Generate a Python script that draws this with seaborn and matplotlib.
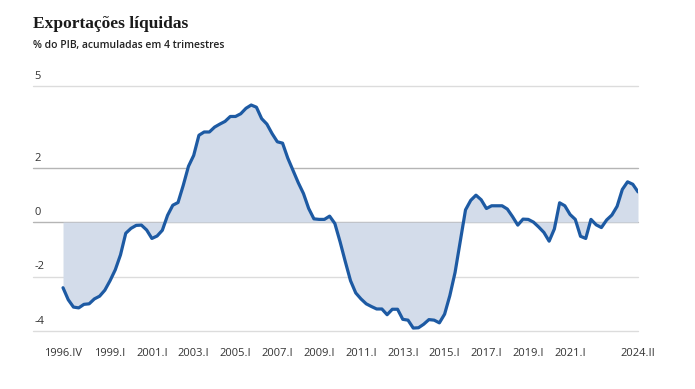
import numpy as np
import pandas as pd
import matplotlib
matplotlib.use("Agg")
import matplotlib.pyplot as plt
import seaborn as sns

# exportações líquidas, % do PIB acumulado em 4 trimestres, 1996.IV a 2024.II
valores = [
    -2.41, -2.85, -3.12, -3.15, -3.02, -3.00, -2.82, -2.72, -2.50, -2.15,
    -1.75, -1.20, -0.41, -0.23, -0.12, -0.11, -0.29, -0.60, -0.51, -0.30,
    0.25, 0.62, 0.72, 1.35, 2.05, 2.45, 3.19, 3.31, 3.31, 3.49,
    3.60, 3.70, 3.88, 3.88, 3.98, 4.18, 4.30, 4.22, 3.80, 3.60,
    3.25, 2.95, 2.90, 2.35, 1.90, 1.45, 1.05, 0.50, 0.12, 0.10,
    0.10, 0.22, -0.05, -0.72, -1.45, -2.15, -2.60, -2.82, -3.00, -3.10,
    -3.19, -3.19, -3.40, -3.20, -3.20, -3.57, -3.60, -3.89, -3.88, -3.75,
    -3.58, -3.60, -3.70, -3.38, -2.70, -1.85, -0.70, 0.45, 0.80, 0.99,
    0.82, 0.50, 0.60, 0.60, 0.60, 0.48, 0.20, -0.11, 0.11, 0.10,
    0.00, -0.18, -0.38, -0.70, -0.25, 0.71, 0.60, 0.28, 0.10, -0.52,
    -0.60, 0.10, -0.10, -0.20, 0.08, 0.26, 0.58, 1.20, 1.48, 1.39,
    1.11,
]
rotulos_x = ["1996.IV", "1999.I", "2001.I", "2003.I", "2005.I", "2007.I", "2009.I",
             "2011.I", "2013.I", "2015.I", "2017.I", "2019.I", "2021.I", "2024.II"]
pos_x = [0, 9, 17, 25, 33, 41, 49, 57, 65, 73, 81, 89, 97, 110]
ticks_y = [5, 2, 0, -2, -4]

df = pd.DataFrame({"t": np.arange(len(valores)), "v": valores})

sns.set_style("white")
plt.rcParams["font.family"] = ["Open Sans", "DejaVu Sans"]

fig = plt.figure(figsize=(6.95, 3.89), dpi=100)
ax = fig.add_axes([0.0475, 0.149, 0.8705, 0.630])

cor_linha = "#1d5aa3"
cor_area = "#d3dcea"

# grade
for t in ticks_y:
    cor = "#b5b5b5" if t in (0, 2) else "#dcdcdc"
    ax.axhline(t, color=cor, lw=1.0, zorder=0, clip_on=False)
    ax.text(0.003, t + 0.15, str(t), transform=ax.get_yaxis_transform(),
            ha="left", va="bottom", fontsize=8, color="#333333")

ax.fill_between(df["t"], 0, df["v"], color=cor_area, lw=0, zorder=1)
sns.lineplot(data=df, x="t", y="v", ax=ax, color=cor_linha, lw=2.3, zorder=3)

ax.set_xlim(-5.74, 110)
ax.set_ylim(-4, 5)
ax.set_xticks(pos_x)
ax.set_xticklabels(rotulos_x, fontsize=8, color="#333333")
ax.tick_params(axis="x", length=0, pad=12)
ax.set_yticks([])
ax.set_xlabel("")
ax.set_ylabel("")
for s in ax.spines.values():
    s.set_visible(False)

fig.text(0.0475, 0.938, "Exportações líquidas", fontsize=12.5, fontweight="bold",
         family="Liberation Serif", color="#1a1a1a", va="center", ha="left")
fig.text(0.0475, 0.884, "% do PIB, acumuladas em 4 trimestres", fontsize=7.5,
         fontweight="semibold", color="#222222", va="center", ha="left")

fig.savefig("out.png", dpi=100, facecolor="white")
